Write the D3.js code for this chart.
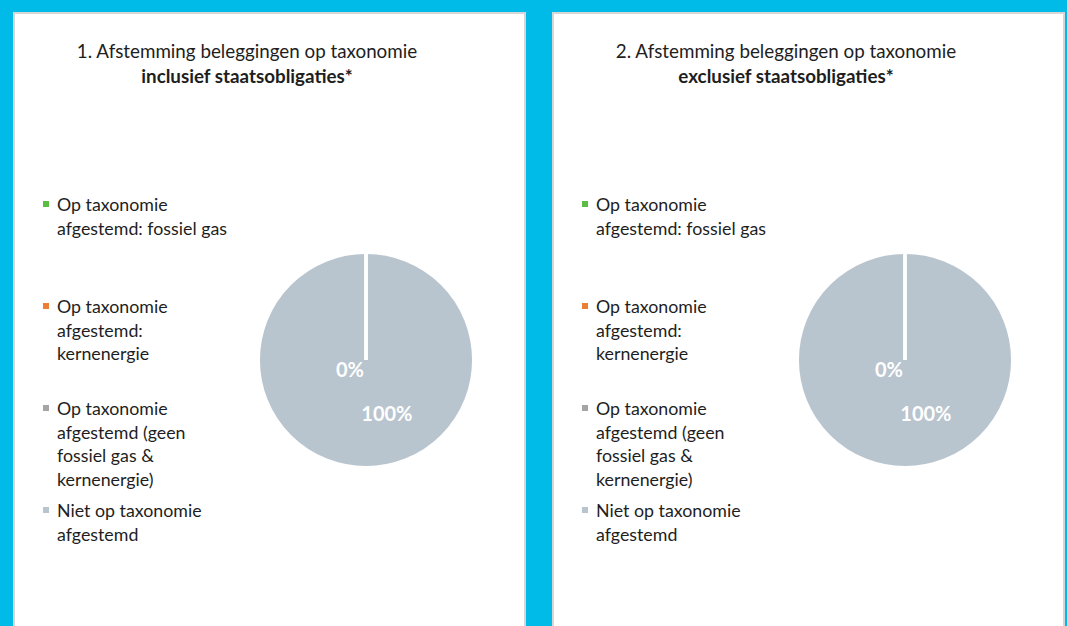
<!DOCTYPE html>
<html lang="en">
  <head>
    <meta charset="utf-8">
    <title>Afstemming beleggingen op taxonomie</title>
    <style>
      body {
        margin: 0;
        background-color: #00bbe7;
      }
      svg {
        display: block;
      }
      text {
        font-family: Lato, "Open Sans", sans-serif;
      }
    </style>
    <script src="https://d3js.org/d3.v7.min.js"></script>
  </head>
  <body>
    <script>
    // chart data
    const titles = ["1. Afstemming beleggingen op taxonomie", "2. Afstemming beleggingen op taxonomie"]
    const titlesBold = ["inclusief staatsobligaties*", "exclusief staatsobligaties*"]
    const categories = [
      ["Op taxonomie", "afgestemd: fossiel gas"],
      ["Op taxonomie", "afgestemd:", "kernenergie"],
      ["Op taxonomie", "afgestemd (geen", "fossiel gas &", "kernenergie)"],
      ["Niet op taxonomie", "afgestemd"]
    ]
    const valuesIncl = [0, 0, 0, 100]
    const valuesExcl = [0, 0, 0, 100]
    const colors = ["#5bbd44", "#ed7d31", "#a5a5a5", "#b8c4ce"]

    const width = 1067, height = 626
    const panel = { x: 14, y: 13, w: 511, step: 539 }
    const fontSize = 17.8, titleSize = 18.8, lineH = 23.5

    const svg = d3.select("body")
      .append("svg")
      .attr("width", width)
      .attr("height", height)
      .style("background-color", "#00bbe7")

    const pie = d3.pie().sort(null).value(d => d)
    const radius = 107
    const arc = d3.arc().innerRadius(0).outerRadius(radius)

    const panels = [valuesIncl, valuesExcl]

    panels.forEach((values, i) => {
      const g = svg.append("g")
        .attr("transform", `translate(${panel.x + i * panel.step},${panel.y})`)

      g.append("rect")
        .attr("width", panel.w)
        .attr("height", height)
        .attr("fill", "white")
        .attr("stroke", "#d6d6d6")
        .attr("stroke-width", 2)

      // title
      const t = g.append("text")
        .attr("text-anchor", "middle")
        .style("font-size", titleSize + "px")
        .attr("fill", "#1e1e1e")
      t.append("tspan").attr("x", 233).attr("y", 45).text(titles[i])
      t.append("tspan").attr("x", 233).attr("y", 70).style("font-weight", "bold").text(titlesBold[i])

      // legend
      const legend = g.append("g").attr("transform", "translate(29,0)")
      const item = legend.selectAll("g.item")
        .data(categories)
        .join("g")
        .attr("class", "item")
        .attr("transform", (d, j) => `translate(0,${198 + j * 102})`)

      item.append("rect")
        .attr("x", 0)
        .attr("y", -10)
        .attr("width", 6)
        .attr("height", 6)
        .attr("fill", (d, j) => colors[j])

      item.append("text")
        .style("font-size", fontSize + "px")
        .attr("fill", "#1e1e1e")
        .selectAll("tspan")
        .data(d => d)
        .join("tspan")
        .attr("x", 14)
        .attr("y", (d, k) => k * lineH)
        .text(d => d)

      // pie
      const arcs = pie(values)
      const pg = g.append("g").attr("transform", `translate(${352},${347})`)

      pg.selectAll("path.slice")
        .data(arcs)
        .join("path")
        .attr("class", "slice")
        .attr("d", arc)
        .attr("fill", (d, j) => colors[j])
        .attr("stroke", "white")
        .attr("stroke-width", 2)

      // slice borders
      pg.selectAll("line.sep")
        .data(arcs)
        .join("line")
        .attr("class", "sep")
        .attr("x1", 0)
        .attr("y1", 0)
        .attr("x2", d => radius * Math.sin(d.startAngle))
        .attr("y2", d => -radius * Math.cos(d.startAngle))
        .attr("stroke", "white")
        .attr("stroke-width", 3)

      // data labels (zero slices share one spot)
      const total = d3.sum(values)
      const seen = new Set()
      const labels = arcs.filter(d => {
        const key = d.value === 0 ? "zero" : d.index
        if (seen.has(key)) return false
        seen.add(key)
        return true
      })

      pg.selectAll("text.lbl")
        .data(labels)
        .join("text")
        .attr("class", "lbl")
        .attr("transform", d => {
          if (d.value === 0) return "translate(-16,17)"
          const a = (d.startAngle + d.endAngle) / 2 - 0.37
          return `translate(${radius * 0.54 * Math.sin(a)},${-radius * 0.54 * Math.cos(a) + 7})`
        })
        .attr("text-anchor", "middle")
        .style("font-size", "20px")
        .style("font-weight", "bold")
        .attr("fill", "white")
        .text(d => Math.round(d.value / total * 100) + "%")
    })
    </script>
  </body>
</html>
